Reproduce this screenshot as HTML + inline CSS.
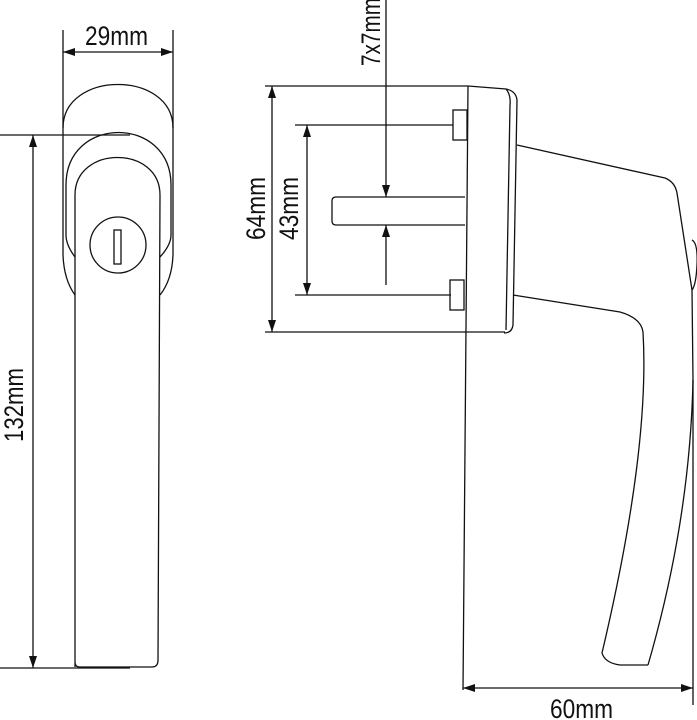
<!DOCTYPE html>
<html><head><style>
html,body{margin:0;padding:0;background:#fff;}
svg{display:block;}
text{font-family:"Liberation Sans",sans-serif;font-size:27px;fill:#111;}
</style></head><body>
<svg width="697" height="720" viewBox="0 0 697 720" xmlns="http://www.w3.org/2000/svg">
<defs>
<marker id="a" viewBox="0 0 12 8" refX="12" refY="4" markerWidth="12" markerHeight="8" markerUnits="userSpaceOnUse" orient="auto-start-reverse">
<path d="M0,0 L12,4 L0,8 Z" fill="#111"/></marker>
</defs>
<g fill="none" stroke="#111" stroke-width="1.3">
<!-- Left view -->
<line x1="63" y1="30" x2="63" y2="128"/>
<line x1="173" y1="30" x2="173" y2="128"/>
<line x1="63" y1="52" x2="173" y2="52" marker-start="url(#a)" marker-end="url(#a)"/>
<path d="M63,128 C63,70 173,70 173,128 L173,255 Q172,280 160,295"/>
<path d="M63,128 L63,255 Q64,280 75,295"/>
<line x1="0" y1="135" x2="130" y2="135"/>
<line x1="0" y1="668" x2="130" y2="668"/>
<line x1="33" y1="135" x2="33" y2="668" marker-start="url(#a)" marker-end="url(#a)"/>
<path d="M75,257 Q66,245 66,235 L66,185 C66,115 171,115 171,185 L171,235 Q171,245 160,257"/>
<path d="M75,667 L75,195 C75,145 160,145 160,195 L158,660 Q158,667 152,667 L80,667 Q75,667 75,662"/>
<circle cx="118" cy="245" r="28"/>
<rect x="114" y="230" width="7" height="34"/>
<!-- Right view -->
<line x1="265" y1="86" x2="468" y2="86"/>
<line x1="265" y1="332" x2="505" y2="332"/>
<line x1="272" y1="86" x2="272" y2="332" marker-start="url(#a)" marker-end="url(#a)"/>
<line x1="295" y1="125" x2="453" y2="125"/>
<line x1="295" y1="295" x2="451" y2="295"/>
<line x1="307" y1="125" x2="307" y2="295" marker-start="url(#a)" marker-end="url(#a)"/>
<path d="M468,86 L463,690"/>
<path d="M468,86 L506,89 Q516,91 517,100 L513,325 Q512,333 504,333"/>
<path d="M506,89 Q511,95 510,105 L506,330"/>
<rect x="453" y="110" width="14" height="30"/>
<rect x="450" y="280" width="14" height="30"/>
<path d="M465,197 L336,197 Q332,197 332,201 L332,221 Q332,225 336,225 L465,225"/>
<line x1="386" y1="0" x2="386" y2="197" marker-end="url(#a)"/>
<line x1="386" y1="285" x2="386" y2="225" marker-end="url(#a)"/>
<path d="M517,145 L665,178 Q675,182 677,193 L692,290 L693,380 Q690,520 648,665"/>
<path d="M513,295 L620,312 Q641,318 643,332 Q650,450 602,653 Q605,663 620,665 L648,665"/>
<path d="M692,240 Q698,243 697,265 Q696,285 692,290"/>
<line x1="463" y1="688" x2="693" y2="688" marker-start="url(#a)" marker-end="url(#a)"/>
<line x1="693" y1="380" x2="693" y2="705"/>
</g>
<text x="85" y="45" textLength="63" lengthAdjust="spacingAndGlyphs">29mm</text>
<text transform="translate(23,442) rotate(-90)" textLength="74" lengthAdjust="spacingAndGlyphs">132mm</text>
<text transform="translate(265,240) rotate(-90)" textLength="63" lengthAdjust="spacingAndGlyphs">64mm</text>
<text transform="translate(298,240) rotate(-90)" textLength="63" lengthAdjust="spacingAndGlyphs">43mm</text>
<text transform="translate(380,66) rotate(-90)" textLength="68" lengthAdjust="spacingAndGlyphs">7x7mm</text>
<text x="550" y="718" textLength="63" lengthAdjust="spacingAndGlyphs">60mm</text>
</svg>
</body></html>
